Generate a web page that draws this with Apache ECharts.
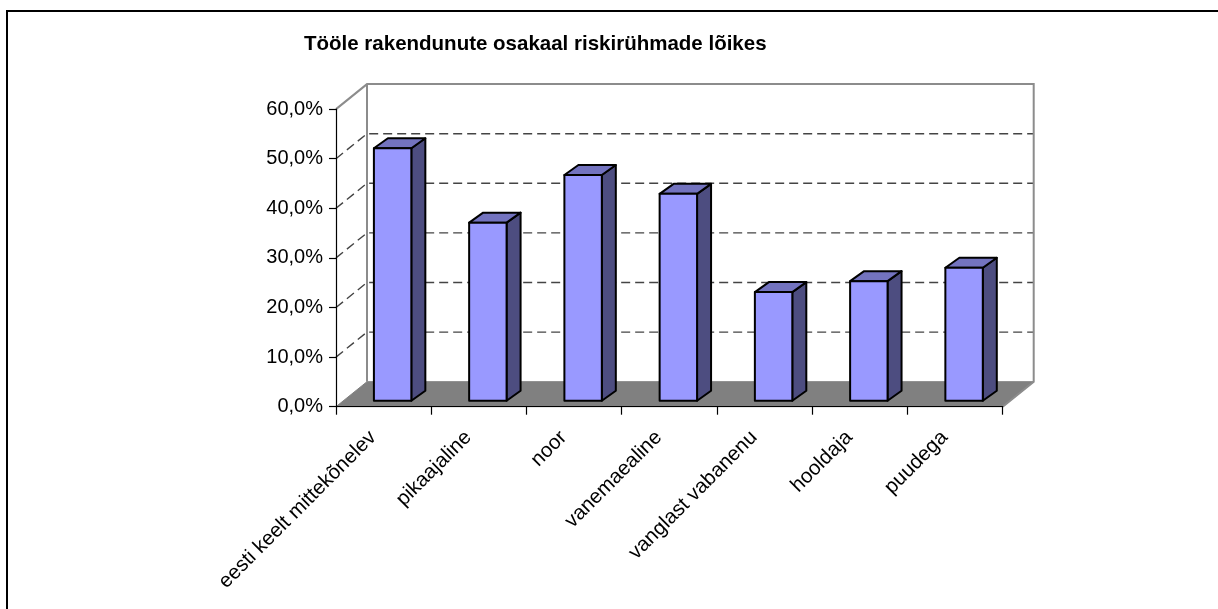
<!DOCTYPE html>
<html>
<head>
<meta charset="utf-8">
<script src="https://cdn.jsdelivr.net/npm/echarts@6/dist/echarts.min.js"></script>
<style>
html, body { margin: 0; padding: 0; background: #fff; }
#chart { width: 1218px; height: 609px; }
</style>
</head>
<body>
<div id="chart"></div>
<script>
// riskirühmad ja tööle rakendunute osakaal (%)
var categories = ['eesti keelt mittekõnelev', 'pikaajaline', 'noor', 'vanemaealine',
    'vanglast vabanenu', 'hooldaja', 'puudega'];
var shares = [50.9, 35.9, 45.5, 41.7, 21.9, 24.1, 26.8];
var gridTicks = [10, 20, 30, 40, 50];
var yMax = 60;

var FONT = 'Arial, "Liberation Sans", sans-serif';
// 3D look: depth of the walls and of the bars, in pixels
var wallDepth = [31, -25];
var barFront = [9, -6];
var barDepth = [14, -10];

function pct(v) {
    return v.toFixed(1).replace('.', ',') + '%';
}

// back wall, side wall, floor and gridlines
function renderWalls(params, api) {
    var cs = params.coordSys;
    var xl = cs.x, xr = cs.x + cs.width;
    var dx = wallDepth[0], dy = wallDepth[1];
    var y0 = api.coord([0, 0])[1];
    var yTop = api.coord([0, yMax])[1];
    var edge = { stroke: '#8c8c8c', lineWidth: 2, fill: null };
    var children = [];

    children.push({
        type: 'polygon',
        shape: { points: [[xl, y0], [xr, y0], [xr + dx, y0 + dy], [xl + dx, y0 + dy]] },
        style: { fill: '#808080', stroke: '#808080', lineWidth: 1 }
    });
    gridTicks.forEach(function (t) {
        var y = api.coord([0, t])[1];
        children.push({
            type: 'polyline',
            shape: { points: [[xl, y], [xl + dx, y + dy], [xr + dx, y + dy]] },
            style: { stroke: '#444', lineWidth: 1.4, lineDash: [9, 5], fill: null }
        });
    });
    children.push({
        type: 'polyline',
        shape: { points: [[xl, yTop], [xl + dx, yTop + dy], [xr + dx, yTop + dy], [xr + dx, y0 + dy], [xr, y0]] },
        style: edge
    });
    children.push({
        type: 'line',
        shape: { x1: xl + dx, y1: yTop + dy, x2: xl + dx, y2: y0 + dy },
        style: edge
    });
    return { type: 'group', children: children };
}

function renderBar(params, api) {
    var i = api.value(0);
    var base = api.coord([i, 0]);
    var top = api.coord([i, api.value(1)]);
    var w = api.size([1, 0])[0] * 0.393;
    var x0 = base[0] - w / 2 + barFront[0];
    var x1 = x0 + w;
    var yb = base[1] + barFront[1];
    var yt = top[1] + barFront[1];
    var dx = barDepth[0], dy = barDepth[1];
    var outline = { stroke: '#000', lineWidth: 2, lineJoin: 'round' };
    return {
        type: 'group',
        children: [
            {
                type: 'polygon',
                shape: { points: [[x1, yt], [x1 + dx, yt + dy], [x1 + dx, yb + dy], [x1, yb]] },
                style: Object.assign({ fill: '#4d4d80' }, outline)
            },
            {
                type: 'polygon',
                shape: { points: [[x0, yt], [x0 + dx, yt + dy], [x1 + dx, yt + dy], [x1, yt]] },
                style: Object.assign({ fill: '#7373bf' }, outline)
            },
            {
                type: 'rect',
                shape: { x: x0, y: yt, width: w, height: yb - yt },
                style: Object.assign({ fill: '#9999ff' }, outline)
            }
        ]
    };
}

var chart = echarts.init(document.getElementById('chart'));

chart.setOption({
    animation: false,
    backgroundColor: '#fff',
    title: {
        text: 'Tööle rakendunute osakaal riskirühmade lõikes',
        left: 304,
        top: 34,
        padding: 0,
        textStyle: { fontFamily: FONT, fontSize: 20.5, fontWeight: 'bold', color: '#000' }
    },
    graphic: [{
        type: 'rect',
        shape: { x: 7, y: 11, width: 1300, height: 700 },
        style: { fill: null, stroke: '#000', lineWidth: 2 },
        silent: true
    }],
    grid: { left: 336, right: 215.3, top: 109.1, bottom: 202.3 },
    xAxis: {
        type: 'category',
        data: categories,
        z: 5,
        axisLine: { lineStyle: { color: '#000', width: 1.2 } },
        axisTick: { show: true, length: 8, lineStyle: { color: '#000', width: 1.2 } },
        axisLabel: {
            interval: 0,
            rotate: 45,
            margin: 17,
            padding: [0, 15, 0, 0],
            hideOverlap: false,
            color: '#000',
            fontFamily: FONT,
            fontSize: 20.5
        }
    },
    yAxis: {
        type: 'value',
        min: 0,
        max: yMax,
        interval: 10,
        z: 5,
        axisLine: { show: true, lineStyle: { color: '#000', width: 1.2 } },
        axisTick: { show: true, length: 7, lineStyle: { color: '#000', width: 1.2 } },
        splitLine: { show: false },
        axisLabel: {
            margin: 13,
            color: '#000',
            fontFamily: FONT,
            fontSize: 20,
            formatter: pct
        }
    },
    series: [
        {
            type: 'custom',
            name: 'walls',
            z: 1,
            clip: false,
            silent: true,
            renderItem: renderWalls,
            data: [[0, 0]]
        },
        {
            type: 'custom',
            name: 'osakaal',
            z: 3,
            clip: false,
            renderItem: renderBar,
            encode: { x: 0, y: 1 },
            data: shares.map(function (v, i) { return [i, v]; })
        }
    ]
});
</script>
</body>
</html>
